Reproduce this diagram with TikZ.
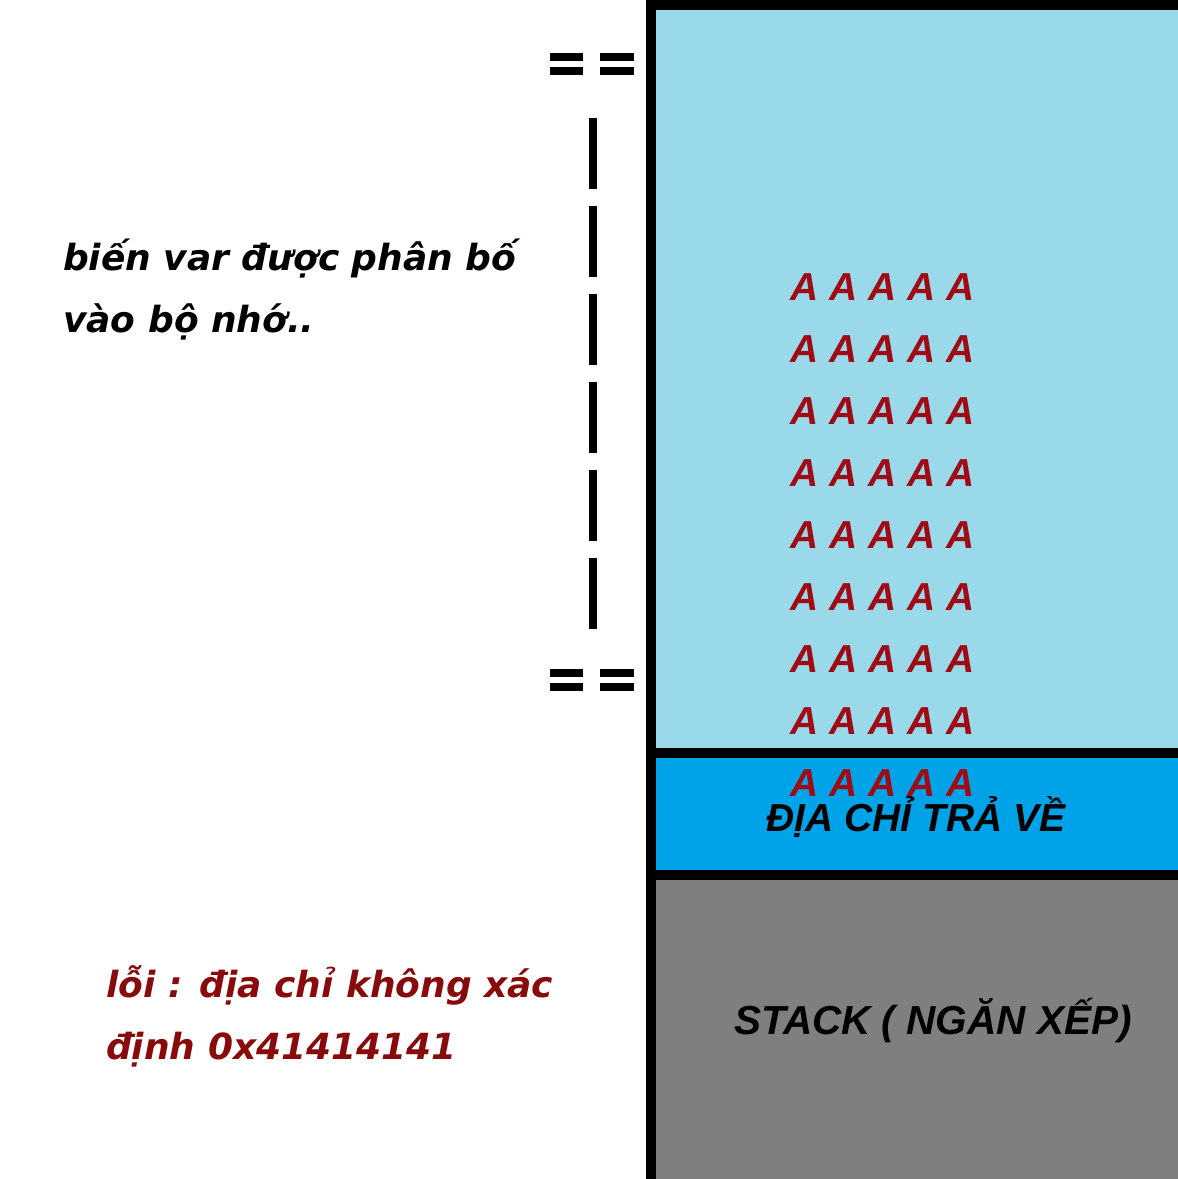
\documentclass[tikz,border=0pt]{standalone}
\usepackage{fontspec}
\newfontfamily\notefont{DejaVu Sans}
\newfontfamily\boxfont{Liberation Sans}
\usetikzlibrary{positioning}
\definecolor{varblue}{HTML}{99D9EA}
\definecolor{retblue}{HTML}{00A2E8}
\definecolor{stackgray}{HTML}{7F7F7F}
\definecolor{fillred}{HTML}{A00A14}
\definecolor{errred}{HTML}{880A0A}
\tikzset{
      wall/.style   = {black, line width=10pt},
      bar/.style    = {black, line width=8pt},
      brace/.style  = {black, line width=8pt, dash pattern=on 71pt off 17pt},
      note/.style   = {font=\notefont\bfseries\itshape\fontsize{36}{44}\selectfont, inner sep=0pt, anchor=base west},
      boxtext/.style = {font=\boxfont\bfseries\itshape\fontsize{39}{47}\selectfont, inner sep=0pt},
      fillA/.style  = {boxtext, text=fillred},
    }

\begin{document}
\begin{tikzpicture}[x=1pt,y=1pt,node distance=62pt]
          \useasboundingbox (0,0) rectangle (1178,1179);
          % memory blocks
          \fill[varblue] (651,426) rectangle (1190,1174);
          \fill[retblue] (651,304) rectangle (1190,426);
          \fill[stackgray] (651,-10) rectangle (1190,304);
          \draw[wall] (651,-10) -- (651,1174) -- (1190,1174);
          \draw[wall] (651,426) -- (1190,426);
          \draw[wall] (651,304) -- (1190,304);

          % marks round the variable
          \draw[bar] (550,1122) -- (583,1122);
          \draw[bar] (550,1107.5) -- (583,1107.5);
          \draw[bar] (600,1122) -- (634,1122);
          \draw[bar] (600,1107.5) -- (634,1107.5);
          \draw[bar] (550,505.5) -- (583,505.5);
          \draw[bar] (550,491.5) -- (583,491.5);
          \draw[bar] (600,505.5) -- (634,505.5);
          \draw[bar] (600,491.5) -- (634,491.5);
          \coordinate (vartop) at (593,1061);
          \coordinate (varbot) at (593,550);
          \draw[brace] (vartop) -- (varbot);

          \node[note] (var1) at (63,908) {biến var được phân bố};
          \node[note] (var2) at (63,846) {vào bộ nhớ..};
          \node[note, text=errred] (err1) at (106,181) {lỗi : địa chỉ không xác};
          \node[note, text=errred] (err2) at (106,119) {định 0x41414141};

          % overflow
          \node[fillA] (a1) at (883,892) {A A A A A};
          \node[fillA, below of=a1] (a2) {A A A A A};
          \node[fillA, below of=a2] (a3) {A A A A A};
          \node[fillA, below of=a3] (a4) {A A A A A};
          \node[fillA, below of=a4] (a5) {A A A A A};
          \node[fillA, below of=a5] (a6) {A A A A A};
          \node[fillA, below of=a6] (a7) {A A A A A};
          \node[fillA, below of=a7] (a8) {A A A A A};
          \node[fillA, below of=a8] (a9) {A A A A A};

          \node[boxtext, anchor=base] (ret) at (916,347) {ĐỊA CHỈ TRẢ VỀ};
          \node[boxtext, anchor=base, font=\boxfont\bfseries\itshape\fontsize{40.5}{48}\selectfont] (stack) at (933,144) {STACK ( NGĂN XẾP)};
          \end{tikzpicture}
\end{document}
